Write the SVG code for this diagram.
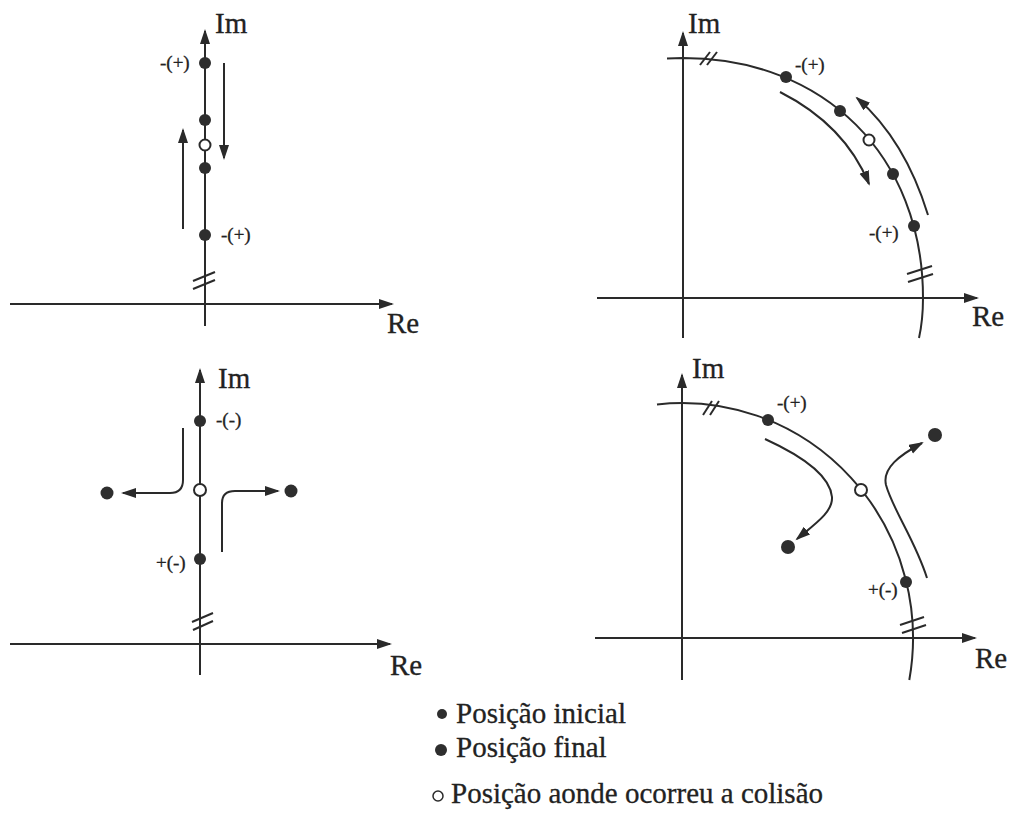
<svg xmlns="http://www.w3.org/2000/svg" width="1009" height="833" viewBox="0 0 1009 833">
<defs>
<style>
.ax{stroke:#2a2a2a;stroke-width:2;fill:none}
.cv{stroke:#2a2a2a;stroke-width:2;fill:none}
.br{stroke:#2a2a2a;stroke-width:2;fill:none}
.dot{fill:#2e2e2e}
.open{fill:#fff;stroke:#2a2a2a;stroke-width:2}
.lab{font-family:"Liberation Serif","Times New Roman",serif;font-size:29px;fill:#222;stroke:#222;stroke-width:0.3}
.sm{font-family:"Liberation Serif","Times New Roman",serif;font-size:19px;fill:#222;stroke:#222;stroke-width:0.3}
.arr{marker-end:url(#ah)}
</style>
<marker id="ah" markerUnits="userSpaceOnUse" markerWidth="16" markerHeight="12" refX="13" refY="5" orient="auto">
<path d="M0,0 L15,5 L0,10 z" fill="#2a2a2a"/>
</marker>
</defs>
<rect width="1009" height="833" fill="#fff"/>

<g id="connectors">
  <!-- panel 1 -->
  <line class="ax arr" x1="10" y1="304" x2="392" y2="304"/>
  <line class="ax arr" x1="205" y1="326" x2="205" y2="31"/>
  <line class="br" x1="193" y1="281" x2="215" y2="272"/>
  <line class="br" x1="193" y1="289" x2="215" y2="280"/>
  <line class="cv arr" x1="224" y1="63" x2="224" y2="158"/>
  <line class="cv arr" x1="183" y1="229" x2="183" y2="130"/>

  <!-- panel 2 -->
  <line class="ax arr" x1="597" y1="298" x2="977" y2="298"/>
  <line class="ax arr" x1="683" y1="338" x2="683" y2="33"/>
  <path class="cv" d="M667,58.5 L683,58 C824.6,58 923,156.4 923,298 Q923,320 919,338"/>
  <line class="br" x1="700" y1="65" x2="710" y2="52"/>
  <line class="br" x1="707" y1="65" x2="717" y2="52"/>
  <line class="br" x1="907" y1="274" x2="932" y2="266"/>
  <line class="br" x1="908" y1="282" x2="933" y2="274"/>
  <path class="cv arr" d="M780,92 Q845,125 869,184"/>
  <path class="cv arr" d="M928,215 Q905,140 857,98"/>

  <!-- panel 3 -->
  <line class="ax arr" x1="10" y1="644" x2="390" y2="644"/>
  <line class="ax arr" x1="200" y1="675" x2="200" y2="370"/>
  <line class="br" x1="192" y1="622" x2="213" y2="613"/>
  <line class="br" x1="193" y1="630" x2="213" y2="621"/>
  <path class="cv arr" d="M183,428 L183,480 Q183,493 170,493 L123,493"/>
  <path class="cv arr" d="M222,552 L222,503 Q222,491 235,491 L278,491"/>

  <!-- panel 4 -->
  <line class="ax arr" x1="595" y1="638" x2="975" y2="638"/>
  <line class="ax arr" x1="682" y1="680" x2="682" y2="375"/>
  <path class="cv" d="M657,404.4 A231,235 0 0 1 909.3,680"/>
  <line class="br" x1="703" y1="415" x2="712" y2="401"/>
  <line class="br" x1="710" y1="415" x2="719" y2="401"/>
  <line class="br" x1="900" y1="625" x2="924" y2="617"/>
  <line class="br" x1="902" y1="633" x2="926" y2="625"/>
  <path class="cv arr" d="M765,439 C800,455 830,475 832,497 C833,512 815,524 797,539"/>
  <path class="cv arr" d="M927,578 C915,540 893,510 886,485 C882,468 900,455 922,443"/>
</g>

<g id="panel1">
  <text class="lab" x="215" y="33">Im</text>
  <text class="lab" x="387" y="333">Re</text>
  <g id="p1-d1"><circle class="dot" cx="205" cy="63" r="6"/><text class="sm" x="160" y="69">-(+)</text></g>
  <g id="p1-d2"><circle class="dot" cx="205" cy="120" r="6"/></g>
  <g id="p1-c"><circle class="open" cx="205" cy="145" r="5.5"/></g>
  <g id="p1-d3"><circle class="dot" cx="205" cy="168" r="6"/></g>
  <g id="p1-d4"><circle class="dot" cx="205" cy="235" r="6"/><text class="sm" x="221" y="241">-(+)</text></g>
</g>

<g id="panel2">
  <text class="lab" x="688" y="33">Im</text>
  <text class="lab" x="972" y="326">Re</text>
  <g id="p2-d1"><circle class="dot" cx="786" cy="77" r="6"/><text class="sm" x="795" y="71">-(+)</text></g>
  <g id="p2-d2"><circle class="dot" cx="840" cy="111" r="6"/></g>
  <g id="p2-c"><circle class="open" cx="869" cy="140" r="5.5"/></g>
  <g id="p2-d3"><circle class="dot" cx="893" cy="174" r="6"/></g>
  <g id="p2-d4"><circle class="dot" cx="914" cy="226" r="6"/><text class="sm" x="869" y="239">-(+)</text></g>
</g>

<g id="panel3">
  <text class="lab" x="218" y="388">Im</text>
  <text class="lab" x="390" y="675">Re</text>
  <g id="p3-d1"><circle class="dot" cx="200" cy="421" r="6"/><text class="sm" x="216" y="426">-(-)</text></g>
  <g id="p3-c"><circle class="open" cx="200" cy="490" r="6"/></g>
  <g id="p3-d2"><circle class="dot" cx="200" cy="559" r="6"/><text class="sm" x="156" y="569">+(-)</text></g>
  <g id="p3-f1"><circle class="dot" cx="107" cy="493" r="6.5"/></g>
  <g id="p3-f2"><circle class="dot" cx="291" cy="491" r="6.5"/></g>
</g>

<g id="panel4">
  <text class="lab" x="692" y="378">Im</text>
  <text class="lab" x="975" y="668">Re</text>
  <g id="p4-d1"><circle class="dot" cx="768" cy="420" r="6"/><text class="sm" x="777" y="409">-(+)</text></g>
  <g id="p4-c"><circle class="open" cx="861" cy="490" r="6"/></g>
  <g id="p4-d2"><circle class="dot" cx="906" cy="582" r="6"/><text class="sm" x="868" y="596">+(-)</text></g>
  <g id="p4-f1"><circle class="dot" cx="935" cy="435" r="7"/></g>
  <g id="p4-f2"><circle class="dot" cx="788" cy="547" r="7"/></g>
</g>

<g id="legend">
  <g id="leg1"><circle class="dot" cx="442" cy="714" r="5"/><text class="lab" x="456" y="723">Posição inicial</text></g>
  <g id="leg2"><circle class="dot" cx="441" cy="750" r="6"/><text class="lab" x="456" y="757">Posição final</text></g>
  <g id="leg3"><circle cx="438" cy="796" r="5" fill="#fff" stroke="#2a2a2a" stroke-width="1.5"/><text class="lab" x="451" y="803">Posição aonde ocorreu a colisão</text></g>
</g>
</svg>
